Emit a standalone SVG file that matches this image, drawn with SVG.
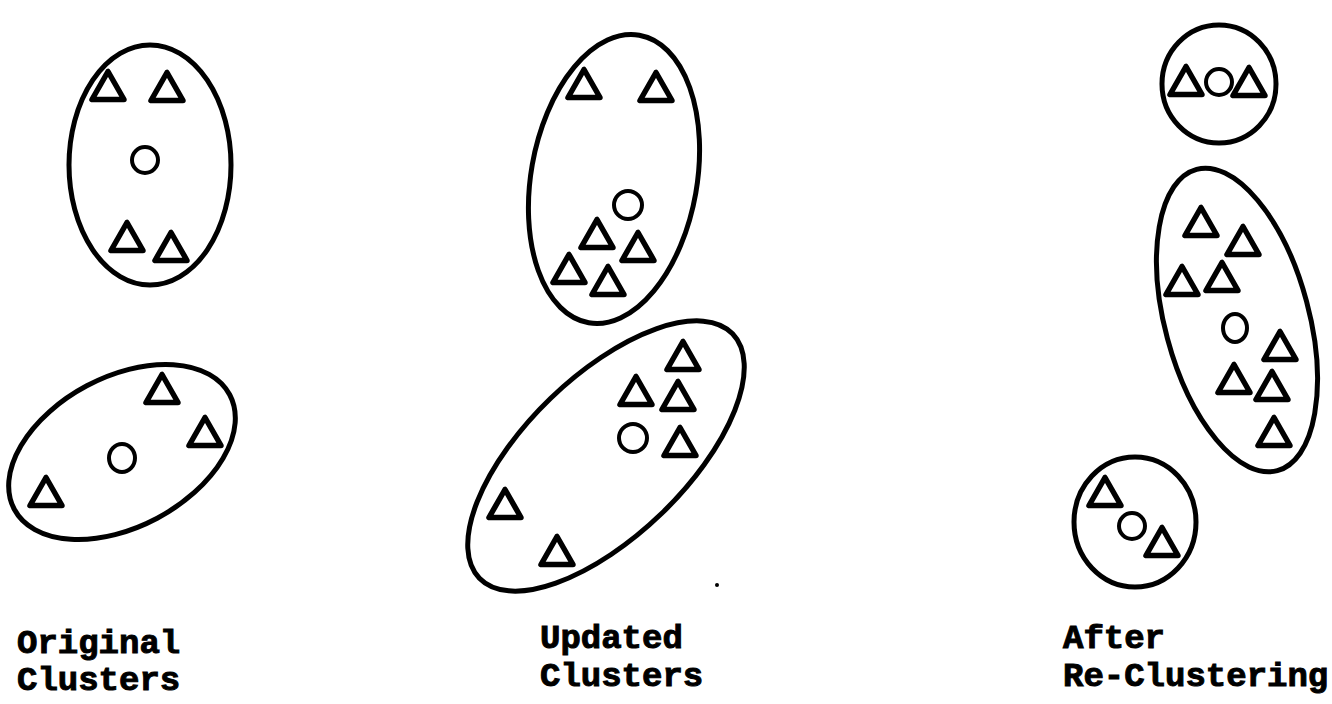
<svg xmlns="http://www.w3.org/2000/svg" xmlns:xlink="http://www.w3.org/1999/xlink" width="1332" height="704" viewBox="0 0 1332 704">
<style>
.hull{fill:none;stroke:#000;stroke-width:5}
.tri{fill:none;stroke:#000;stroke-width:5.5;stroke-linejoin:round}
.ctr{fill:none;stroke:#000;stroke-width:4}
.lbl{font-family:"Liberation Mono","Courier New",monospace;font-weight:bold;font-size:34px;fill:#000;stroke:#000;stroke-width:1}
</style>
<defs>
<path id="tri" class="tri" d="M0,-28 L-16,0 L16,0 Z"/>
</defs>
<rect width="1332" height="704" fill="#fff"/>
<g id="connectors"/>
<!-- Panel 1 -->
<g id="orig-top">
<ellipse class="hull" cx="150" cy="165" rx="81" ry="120"/>
<use xlink:href="#tri" x="108" y="99.5"/>
<use xlink:href="#tri" x="167" y="100.5"/>
<circle class="ctr" cx="145" cy="160" r="13"/>
<use xlink:href="#tri" x="127" y="250.5"/>
<use xlink:href="#tri" x="171" y="260.5"/>
</g>
<g id="orig-bottom">
<ellipse class="hull" cx="122" cy="452" rx="122" ry="75" transform="rotate(-28 122 452)"/>
<use xlink:href="#tri" x="162" y="402.5"/>
<use xlink:href="#tri" x="205" y="445.5"/>
<ellipse class="ctr" cx="122" cy="458" rx="13" ry="14"/>
<use xlink:href="#tri" x="46" y="505.5"/>
</g>
<!-- Panel 2 -->
<g id="upd-top">
<ellipse class="hull" cx="614" cy="179" rx="83" ry="146" transform="rotate(10 614 179)"/>
<use xlink:href="#tri" x="584" y="97.5"/>
<use xlink:href="#tri" x="656" y="100.5"/>
<circle class="ctr" cx="628" cy="205" r="14"/>
<use xlink:href="#tri" x="597" y="247.5"/>
<use xlink:href="#tri" x="638" y="260.5"/>
<use xlink:href="#tri" x="569" y="282.5"/>
<use xlink:href="#tri" x="608" y="294.5"/>
</g>
<g id="upd-bottom">
<ellipse class="hull" cx="606" cy="456" rx="176" ry="80" transform="rotate(-44 606 456)"/>
<use xlink:href="#tri" x="683" y="369.5"/>
<use xlink:href="#tri" x="636" y="404.5"/>
<use xlink:href="#tri" x="678" y="409.5"/>
<circle class="ctr" cx="633" cy="438" r="14"/>
<use xlink:href="#tri" x="680" y="455.5"/>
<use xlink:href="#tri" x="505" y="517.5"/>
<use xlink:href="#tri" x="557" y="564.5"/>
</g>
<circle cx="717" cy="585" r="2" fill="#000"/>
<!-- Panel 3 -->
<g id="re-top">
<ellipse class="hull" cx="1219" cy="84" rx="57" ry="59"/>
<use xlink:href="#tri" x="1186" y="94.5"/>
<circle class="ctr" cx="1219" cy="82" r="13"/>
<use xlink:href="#tri" x="1249" y="95.5"/>
</g>
<g id="re-middle">
<ellipse class="hull" cx="1237" cy="320" rx="72" ry="156" transform="rotate(-15 1237 320)"/>
<use xlink:href="#tri" x="1201" y="235.5"/>
<use xlink:href="#tri" x="1243" y="254.5"/>
<use xlink:href="#tri" x="1182" y="294.5"/>
<use xlink:href="#tri" x="1222" y="290.5"/>
<ellipse class="ctr" cx="1235" cy="328" rx="12" ry="14"/>
<use xlink:href="#tri" x="1280" y="359.5"/>
<use xlink:href="#tri" x="1234" y="392.5"/>
<use xlink:href="#tri" x="1272" y="399.5"/>
<use xlink:href="#tri" x="1274" y="445.5"/>
</g>
<g id="re-bottom">
<ellipse class="hull" cx="1135" cy="522" rx="61" ry="65"/>
<use xlink:href="#tri" x="1105" y="505.5"/>
<circle class="ctr" cx="1132" cy="526" r="13"/>
<use xlink:href="#tri" x="1162" y="555.5"/>
</g>
<!-- Labels -->
<g id="labels">
<text class="lbl" x="17" y="653">Original</text>
<text class="lbl" x="17" y="690">Clusters</text>
<text class="lbl" x="540" y="648">Updated</text>
<text class="lbl" x="540" y="686">Clusters</text>
<text class="lbl" x="1063" y="648">After</text>
<text class="lbl" x="1063" y="686">Re-Clustering</text>
</g>
</svg>
